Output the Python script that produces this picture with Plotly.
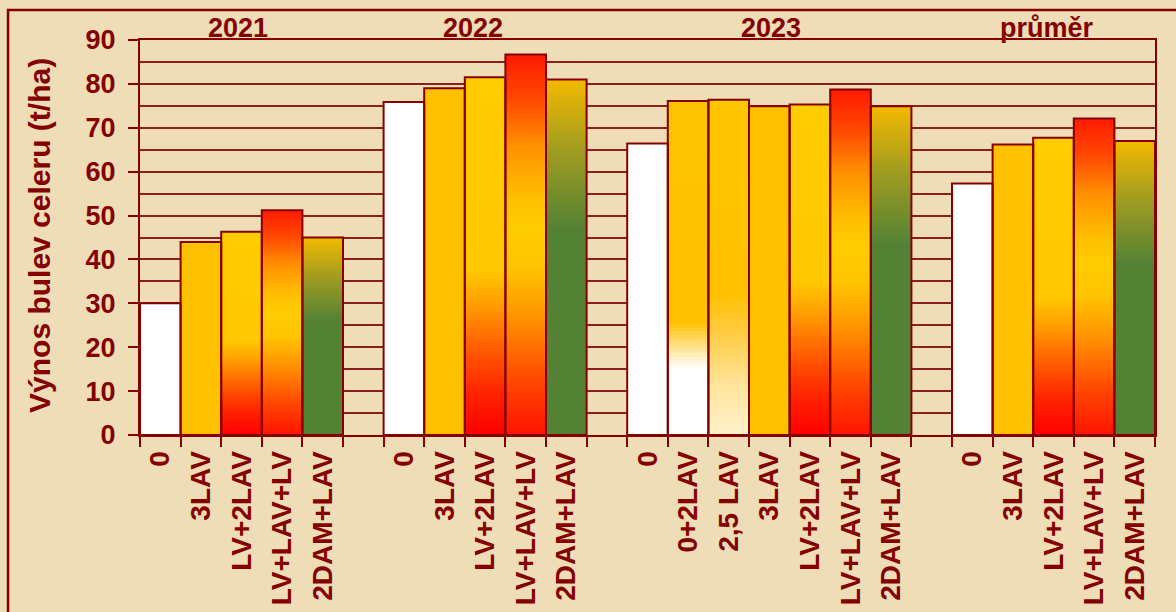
import plotly.graph_objects as go

# ---------------- data ----------------
group_names = ["2021", "2022", "2023", "průměr"]

treat_2021 = ["0", "3LAV", "LV+2LAV", "LV+LAV+LV", "2DAM+LAV"]
vals_2021 = [30.0, 44.0, 46.3, 51.2, 45.0]

treat_2022 = ["0", "3LAV", "LV+2LAV", "LV+LAV+LV", "2DAM+LAV"]
vals_2022 = [75.9, 79.0, 81.5, 86.7, 81.0]

treat_2023 = ["0", "0+2LAV", "2,5 LAV", "3LAV", "LV+2LAV", "LV+LAV+LV", "2DAM+LAV"]
vals_2023 = [66.4, 76.1, 76.4, 74.9, 75.3, 78.7, 74.9]

treat_avg = ["0", "3LAV", "LV+2LAV", "LV+LAV+LV", "2DAM+LAV"]
vals_avg = [57.3, 66.2, 67.7, 72.1, 67.0]

y_tick_values = [0, 10, 20, 30, 40, 50, 60, 70, 80, 90]
y_title = "Výnos bulev celeru (t/ha)"

# ---------------- style ----------------
DARK = "#850000"
GRID = "#8A1F1F"
BG = "#EEDDB7"
FONT = "Liberation Sans, Arial, sans-serif"

# vertical colour gradients (fraction of bar height from bottom, colour)
gradients = {
    "0": [(0, "#FFFFFF"), (1, "#FFFFFF")],
    "3LAV": [(0, "#FFC000"), (1, "#FFC000")],
    "0+2LAV": [(0, "#FFFFFF"), (0.2, "#FFFFFF"), (0.34, "#FFC000"), (1, "#FFC400")],
    "2,5 LAV": [(0, "#FFF2CC"), (0.15, "#FFE49A"), (0.3, "#FFCD45"), (0.42, "#FFC000"), (1, "#FFC600")],
    "LV+2LAV": [(0, "#FF0000"), (0.12, "#FF2400"), (0.25, "#FF6000"), (0.36, "#FF9A00"),
                (0.46, "#FFC800"), (1, "#FFCC00")],
    "LV+LAV+LV": [(0, "#FF1400"), (0.15, "#FF4A00"), (0.3, "#FF9000"), (0.44, "#FFC400"),
                  (0.54, "#FFCC00"), (0.62, "#FFC000"), (0.76, "#FF9000"), (0.88, "#FF4A00"),
                  (1, "#FF1A00")],
    "2DAM+LAV": [(0, "#548235"), (0.58, "#548235"), (0.8, "#A09C20"), (1, "#F2B900")],
}
label_offsets = [-0.09, -0.30, 0.04, -0.16]  # group title nudges (in category units)

groups = [(treat_2021, vals_2021), (treat_2022, vals_2022),
          (treat_2023, vals_2023), (treat_avg, vals_avg)]

xs, vals, treats, centers = [], [], [], []
pos = 0
for tr, vv in groups:
    gx = []
    for t, v in zip(tr, vv):
        xs.append(pos); vals.append(v); treats.append(t); gx.append(pos)
        pos += 1
    centers.append(sum(gx) / len(gx))
    pos += 1
x_max = pos - 2


def hex_to_rgb(h):
    h = h.lstrip("#")
    return tuple(int(h[i:i + 2], 16) for i in (0, 2, 4))


def colour_at(stops, f):
    for (f0, c0), (f1, c1) in zip(stops[:-1], stops[1:]):
        if f <= f1:
            r0, r1 = hex_to_rgb(c0), hex_to_rgb(c1)
            t = 0 if f1 == f0 else (f - f0) / (f1 - f0)
            return "rgb(%d,%d,%d)" % tuple(round(a + (b - a) * t) for a, b in zip(r0, r1))
    return "rgb(%d,%d,%d)" % hex_to_rgb(stops[-1][1])


fig = go.Figure()
N = 90
for k in range(N):
    frac_top = (N - k) / N
    fmid = (N - k - 0.5) / N
    fig.add_trace(go.Bar(
        x=xs, y=[v * frac_top for v in vals], width=1,
        marker=dict(color=[colour_at(gradients[t], fmid) for t in treats],
                    line=dict(width=0)),
        hoverinfo="skip", showlegend=False,
    ))

fig.add_trace(go.Bar(
    x=xs, y=vals, width=1,
    marker=dict(color="rgba(0,0,0,0)", line=dict(color=DARK, width=2)),
    customdata=treats, hovertemplate="%{customdata}: %{y}<extra></extra>",
    showlegend=False,
))

fig.update_layout(
    width=1176, height=612,
    margin=dict(l=140, r=21, t=40, b=177),
    paper_bgcolor=BG, plot_bgcolor="rgba(0,0,0,0)",
    barmode="overlay",
    font=dict(family=FONT, color=DARK, size=27),
    xaxis=dict(
        range=[-0.5, x_max + 0.5], automargin=False,
        tickmode="array", tickvals=xs, ticktext=treats, tickangle=-90,
        ticks="outside", ticklen=3, tickcolor="rgba(0,0,0,0)",
        tickfont=dict(family=FONT, size=28, color=DARK, weight="bold"),
        minor=dict(tickmode="linear", tick0=-0.5, dtick=1, ticks="outside",
                   ticklen=10, tickwidth=2, tickcolor=DARK, showgrid=False),
        showline=True, linecolor=DARK, linewidth=2, mirror=True,
        showgrid=False, zeroline=False,
    ),
    yaxis=dict(
        range=[0, 90], tickmode="array", tickvals=y_tick_values, automargin=False,
        ticks="outside", ticklen=10, tickwidth=2, tickcolor=DARK,
        tickfont=dict(family=FONT, size=27, color=DARK, weight="bold"),
        showgrid=True, gridcolor=GRID, gridwidth=1.5,
        minor=dict(dtick=5, tick0=0, showgrid=True, gridcolor=GRID, gridwidth=1.5, ticks=""),
        showline=True, linecolor=DARK, linewidth=2, mirror=True,
        zeroline=False, ticklabelstandoff=7,
    ),
    shapes=[dict(type="rect", xref="paper", yref="paper",
                 x0=-0.130, x1=1.2, y0=-0.6, y1=1.076,
                 line=dict(color=DARK, width=2.5), fillcolor="rgba(0,0,0,0)", layer="below")],
)

annotations = [dict(x=c + o, y=1.03, xref="x", yref="paper", text=g, showarrow=False,
                    xanchor="center", yanchor="middle",
                    font=dict(family=FONT, size=27, color=DARK, weight="bold"))
               for g, c, o in zip(group_names, centers, label_offsets)]
annotations.append(dict(x=-0.0985, y=0.504, xref="paper", yref="paper", text=y_title,
                        textangle=-90, showarrow=False, xanchor="center", yanchor="middle",
                        font=dict(family=FONT, size=30, color=DARK, weight="bold")))
fig.update_layout(annotations=annotations)

fig.write_html("out.html")
